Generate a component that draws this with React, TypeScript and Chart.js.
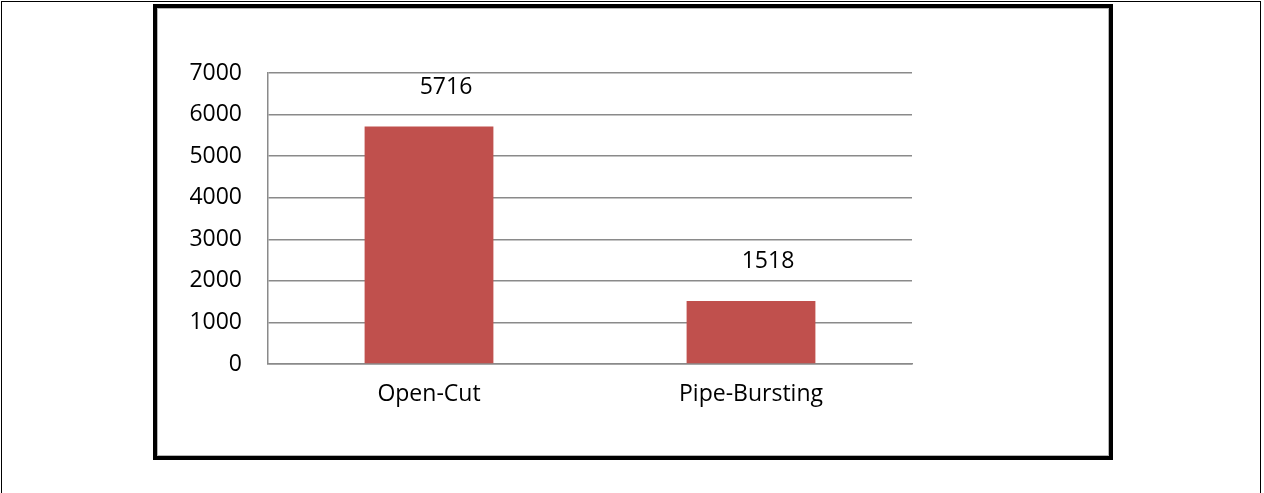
import React, { useEffect, useRef } from "react";
import { Chart, registerables } from "chart.js";

Chart.register(...registerables);

const categories: string[] = ["Open-Cut", "Pipe-Bursting"];
const seriesValues: number[] = [5716, 1518];
const yTickValues: number[] = [0, 1000, 2000, 3000, 4000, 5000, 6000, 7000];

const FONT = "'Open Sans', 'Noto Sans', sans-serif";
const GRID = "#8a8a8a";

const valueLabelPlugin = {
  id: "valueLabels",
  afterDatasetsDraw(chart: any) {
    const ctx = chart.ctx;
    const meta = chart.getDatasetMeta(0);
    const data = chart.data.datasets[0].data as number[];
    ctx.save();
    ctx.font = `23px ${FONT}`;
    ctx.fillStyle = "#000";
    ctx.textAlign = "center";
    ctx.textBaseline = "middle";
    meta.data.forEach((bar: any, i: number) => {
      ctx.fillText(String(data[i]), bar.x + 17, bar.y - 39);
    });
    ctx.restore();
  },
};

export default function App() {
  const ref = useRef<HTMLCanvasElement | null>(null);

  useEffect(() => {
    if (!ref.current) return;
    const chart = new Chart(ref.current, {
      type: "bar",
      data: {
        labels: categories,
        datasets: [
          {
            data: seriesValues,
            backgroundColor: "#C0504D",
            borderWidth: 0,
            barPercentage: 0.4,
            categoryPercentage: 1,
          },
        ],
      },
      options: {
        responsive: false,
        animation: false,
        devicePixelRatio: 1,
        layout: { padding: { left: 0, top: 73, right: 352, bottom: 0 } },
        plugins: {
          legend: { display: false },
          tooltip: { enabled: false },
          title: { display: false },
        },
        scales: {
          x: {
            afterFit: (s: any) => {
              s.height = 129;
            },
            grid: { display: false, drawTicks: false },
            border: { display: true, color: GRID, width: 1.5 },
            ticks: {
              color: "#000",
              padding: 17,
              font: { family: FONT, size: 23 },
            },
          },
          y: {
            min: 0,
            max: 7000,
            afterFit: (s: any) => {
              s.width = 268;
            },
            afterBuildTicks: (s: any) => {
              s.ticks = yTickValues.map((v) => ({ value: v }));
            },
            grid: { color: GRID, lineWidth: 1.5, drawTicks: false },
            border: { display: true, color: GRID, width: 1.5 },
            ticks: {
              color: "#000",
              padding: 26,
              font: { family: FONT, size: 23 },
              callback: (v: any) => String(v),
            },
          },
        },
      },
      plugins: [valueLabelPlugin],
    });
    return () => chart.destroy();
  }, []);

  return (
    <div
      style={{
        position: "absolute",
        left: 0,
        top: 0,
        width: 1264,
        height: 493,
        overflow: "hidden",
        background: "#fff",
      }}
    >
      <div
        style={{
          position: "absolute",
          left: 1,
          top: 1,
          width: 1260,
          height: 600,
          border: "1.5px solid #000",
          boxSizing: "border-box",
        }}
      />
      <div
        style={{
          position: "absolute",
          left: 153,
          top: 4,
          width: 960,
          height: 456,
          border: "4px solid #000",
          boxSizing: "border-box",
          boxShadow: "inset 0 0 0 1px #b5b5b5",
        }}
      />
      <canvas
        ref={ref}
        width={1264}
        height={493}
        style={{ position: "absolute", left: 0, top: 0, width: 1264, height: 493 }}
      />
    </div>
  );
}
